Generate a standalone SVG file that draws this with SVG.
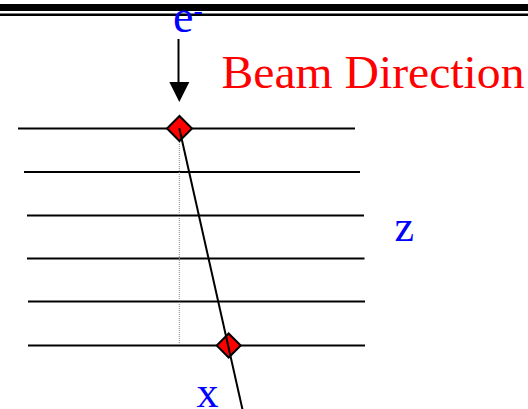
<svg xmlns="http://www.w3.org/2000/svg" width="528" height="409" viewBox="0 0 528 409">
<style>
.t{font-family:"Liberation Serif","Times New Roman",serif;}
.layer{stroke:#000;stroke-width:2;fill:none}
.hit{fill:#ff0000;stroke:#000;stroke-width:2}
</style>
<rect width="528" height="409" fill="#fff"/>
<g id="top-bars">
<rect x="0" y="4" width="528" height="7" fill="#000"/>
<rect x="0" y="13.5" width="528" height="2.5" fill="#000"/>
</g>
<g id="layers">
<line class="layer" x1="18" y1="128.5" x2="355" y2="128.5"/>
<line class="layer" x1="24" y1="172" x2="360" y2="172"/>
<line class="layer" x1="27" y1="215.5" x2="364" y2="215.5"/>
<line class="layer" x1="27" y1="258.5" x2="364.5" y2="258.5"/>
<line class="layer" x1="28" y1="301.5" x2="365" y2="301.5"/>
<line class="layer" x1="28" y1="345.5" x2="365" y2="345.5"/>
</g>
<g id="connectors">
<line x1="179.3" y1="140" x2="179.3" y2="344" stroke="#888" stroke-width="1" stroke-dasharray="1 1"/>
<line x1="178.5" y1="39" x2="178.5" y2="84" stroke="#000" stroke-width="2"/>
<polygon points="169.3,82 189.3,82 179.3,102" fill="#000"/>
</g>
<g id="hit1">
<polygon class="hit" points="179.5,116 192,128.5 179.5,141 167,128.5"/>
</g>
<g id="hit2">
<polygon class="hit" points="228.7,333.5 240.7,345.5 228.7,357.5 216.7,345.5"/>
</g>
<g id="track">
<line x1="179.3" y1="128.3" x2="243.5" y2="414" stroke="#000" stroke-width="2"/>
</g>
<g id="labels">
<text class="t" x="173" y="32" font-size="46" fill="#0000ff">e<tspan font-size="28" dy="-13">-</tspan></text>
<text class="t" x="221.5" y="88.3" font-size="47" fill="#ff0000" textLength="303" lengthAdjust="spacingAndGlyphs">Beam Direction</text>
<text class="t" x="394.5" y="241" font-size="44" fill="#0000ff">z</text>
<text class="t" x="196.5" y="406.7" font-size="44" fill="#0000ff">x</text>
</g>
</svg>
